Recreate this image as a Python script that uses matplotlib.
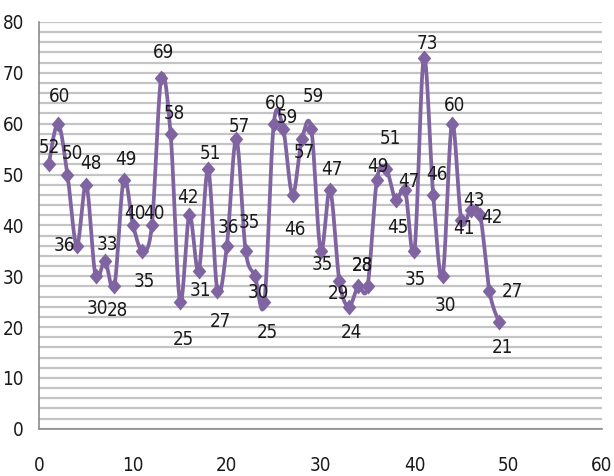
"""
平滑折线 + 菱形标记 + 数据标签
"""
import numpy as np
import matplotlib
matplotlib.use("Agg")
import matplotlib.pyplot as plt
from matplotlib.path import Path

# 数据
x = list(range(1, 50))
y = [52, 60, 50, 36, 48, 30, 33, 28, 49, 40,
     35, 40, 69, 58, 25, 42, 31, 51, 27, 36,
     57, 35, 30, 25, 60, 59, 46, 57, 59, 35,
     47, 29, 24, 28, 28, 49, 51, 45, 47, 35,
     73, 46, 30, 60, 41, 43, 42, 27, 21]
xticks = [0, 10, 20, 30, 40, 50, 60]
yticks = [0, 10, 20, 30, 40, 50, 60, 70, 80]

# 标签偏移（像素，dx, dy），与原图手动摆放一致
label_off = [(1, 17), (2, 27), (5, 21), (-12, 0), (5, 21), (2, -32), (2, 16), (3, -24), (2, 20), (2, 12),
             (2, -31), (2, 12), (2, 25), (4, 20), (3, -38), (-1, 18), (2, -19), (2, 16), (3, -30), (2, 18),
             (3, 12), (4, 28), (3, -16), (3, -31), (2, 20), (4, 11), (2, -35), (3, -14), (2, 32), (2, -14),
             (2, 20), (-1, -12), (3, -26), (4, 21), (-5, 21), (1, 13), (4, 31), (2, -28), (4, 8), (1, -29),
             (4, 14), (4, 20), (3, -29), (3, 18), (3, -8), (3, 10), (12, -2), (23, 0), (4, -26)]

plt.rcParams['font.family'] = ['DejaVu Sans']
plt.rcParams['font.stretch'] = 'condensed'
purple = '#8064a2'

# 略高的菱形
diamond = Path([(0, 1), (0.85, 0), (0, -1), (-0.85, 0), (0, 1)],
               [Path.MOVETO, Path.LINETO, Path.LINETO, Path.LINETO, Path.CLOSEPOLY])


def catmull_rom(px, py, n=20):
    # Excel 风格的平滑曲线
    px = np.asarray(px, float)
    py = np.asarray(py, float)
    P = np.column_stack([px, py])
    P = np.vstack([P[0], P, P[-1]])
    out = []
    t = np.linspace(0, 1, n, endpoint=False)
    for i in range(1, len(P) - 2):
        p0, p1, p2, p3 = P[i - 1], P[i], P[i + 1], P[i + 2]
        c1 = p1 + (p2 - p0) / 6
        c2 = p2 - (p3 - p1) / 6
        tt = t[:, None]
        seg = ((1 - tt) ** 3) * p1 + 3 * ((1 - tt) ** 2) * tt * c1 + 3 * (1 - tt) * tt ** 2 * c2 + tt ** 3 * p2
        out.append(seg)
    out.append(P[-2][None, :])
    out = np.vstack(out)
    return out[:, 0], out[:, 1]


fig = plt.figure(figsize=(6.14, 4.76), dpi=100)
ax = fig.add_axes([0.064, 0.0994, 0.9165, 0.8544])

sx, sy = catmull_rom(x, y)
ax.plot(sx, sy, color=purple, lw=2.7, solid_capstyle='round', zorder=3)
ax.plot(x, y, ls='none', marker=diamond, ms=11.5, mew=0, color=purple, zorder=4)

for xi, yi, (dx, dy) in zip(x, y, label_off):
    ax.annotate(str(yi), (xi, yi), xytext=(dx, dy), textcoords='offset pixels',
                ha='center', va='center', fontsize=13.5, color='#1a1a1a', zorder=5)

ax.set_xlim(0, 60)
ax.set_ylim(0, 80)
ax.set_xticks(xticks)
ax.set_yticks(yticks)
ax.set_yticks(np.arange(0, 81, 2), minor=True)
ax.grid(axis='y', which='both', color='#c4c4c4', lw=1.6, zorder=0)
ax.set_axisbelow(True)
ax.tick_params(axis='both', which='both', length=0, labelsize=13.5, colors='#1a1a1a')
ax.tick_params(axis='x', pad=20)
ax.tick_params(axis='y', pad=11)
for s in ['top', 'right']:
    ax.spines[s].set_visible(False)
for s in ['left', 'bottom']:
    ax.spines[s].set_color('#8c8c8c')
    ax.spines[s].set_linewidth(1.2)

plt.savefig('out.png', dpi=100)
